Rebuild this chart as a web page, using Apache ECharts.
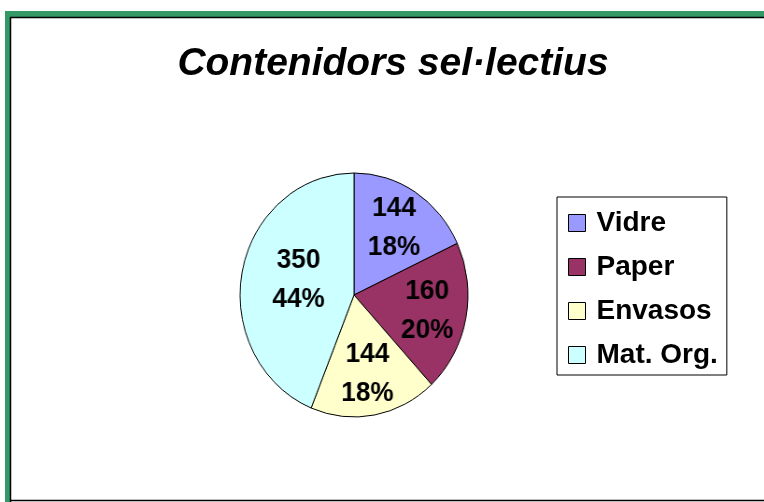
<!DOCTYPE html>
<html>
<head>
<meta charset="utf-8">
<script src="https://cdn.jsdelivr.net/npm/echarts@6/dist/echarts.min.js"></script>
<style>
html,body{margin:0;padding:0;background:#fff;}
#wrap{position:relative;width:764px;height:502px;overflow:hidden;}
#chart{position:absolute;left:0;top:0;width:764px;height:502px;}
#pie{position:absolute;left:0;top:0;width:764px;height:502px;transform-origin:354px 295px;transform:scaleX(0.934);pointer-events:none;}
</style>
</head>
<body>
<div id="wrap">
<div id="chart"></div>
<div id="pie"></div>
</div>
<script>
const titleText = 'Contenidors sel·lectius';
const categories = ['Vidre', 'Paper', 'Envasos', 'Mat. Org.'];
const values = [144, 160, 144, 350];
const colors = ['#9999FF', '#993366', '#FFFFCC', '#CCFFFF'];

const FONT = 'Liberation Sans, Arial, sans-serif';
const R = 122;
const center = [354, 295];

const chart = echarts.init(document.getElementById('chart'), null, {renderer: 'canvas'});
const pie = echarts.init(document.getElementById('pie'), null, {renderer: 'canvas'});

chart.setOption({
  animation: false,
  backgroundColor: '#ffffff',
  color: colors,
  title: {
    text: titleText,
    left: 388, top: 40, textAlign: 'center',
    textStyle: {fontFamily: FONT, fontSize: 39, fontWeight: 'bold', fontStyle: 'italic', color: '#000'}
  },
  legend: {
    orient: 'vertical',
    left: 557, top: 197,
    padding: [12, 9, 6, 11],
    itemGap: 16,
    itemWidth: 17, itemHeight: 17,
    icon: 'rect',
    borderColor: '#000', borderWidth: 1, borderRadius: 0,
    data: categories,
    itemStyle: {borderColor: '#000', borderWidth: 1},
    textStyle: {fontFamily: FONT, fontSize: 28, fontWeight: 'bold', color: '#000', padding: [0, 0, 0, 6]}
  },
  graphic: [
    {type: 'rect', shape: {x: 5, y: 11, width: 759, height: 6}, style: {fill: '#339966'}, silent: true},
    {type: 'rect', shape: {x: 5, y: 11, width: 5, height: 491}, style: {fill: '#339966'}, silent: true},
    {type: 'line', shape: {x1: 10.5, y1: 17, x2: 10.5, y2: 502}, style: {stroke: '#000', lineWidth: 1.5}, silent: true},
    {type: 'line', shape: {x1: 10, y1: 17.5, x2: 764, y2: 17.5}, style: {stroke: '#000', lineWidth: 1.5}, silent: true},
    {type: 'line', shape: {x1: 10, y1: 500.5, x2: 764, y2: 500.5}, style: {stroke: '#000', lineWidth: 1.5}, silent: true}
  ],
  series: [
    {
      type: 'pie',
      center: [-1000, -1000],
      radius: [0, 1],
      silent: true,
      label: {show: false},
      labelLine: {show: false},
      itemStyle: {borderColor: '#000', borderWidth: 1},
      data: categories.map((c, i) => ({name: c, value: values[i], itemStyle: {color: colors[i]}}))
    }
  ]
});

const pieData = categories.map((c, i) => ({name: c, value: values[i], itemStyle: {color: colors[i]}}));
const labelData = categories.map((c, i) => {
  const d = {name: c, value: values[i]};
  if (c === 'Mat. Org.') d.label = {offset: [19, 0]};
  return d;
});

pie.setOption({
  animation: false,
  series: [
    {
      type: 'pie',
      center: center,
      radius: [0, R],
      startAngle: 90,
      clockwise: true,
      percentPrecision: 0,
      silent: true,
      label: {show: false},
      labelLine: {show: false},
      itemStyle: {borderColor: '#000', borderWidth: 1},
      emphasis: {disabled: true},
      data: pieData
    },
    {
      type: 'pie',
      center: center,
      radius: [R * 0.26, R],
      startAngle: 90,
      clockwise: true,
      silent: true,
      percentPrecision: 0,
      itemStyle: {color: 'rgba(0,0,0,0)', borderWidth: 0},
      label: {
        show: true, position: 'inside',
        formatter: '{c}\n{d}%',
        fontFamily: FONT, fontSize: 28, fontWeight: 'bold', color: '#000',
        lineHeight: 39, textBorderWidth: 0
      },
      labelLine: {show: false},
      emphasis: {disabled: true},
      data: labelData
    }
  ]
});
</script>
</body>
</html>
